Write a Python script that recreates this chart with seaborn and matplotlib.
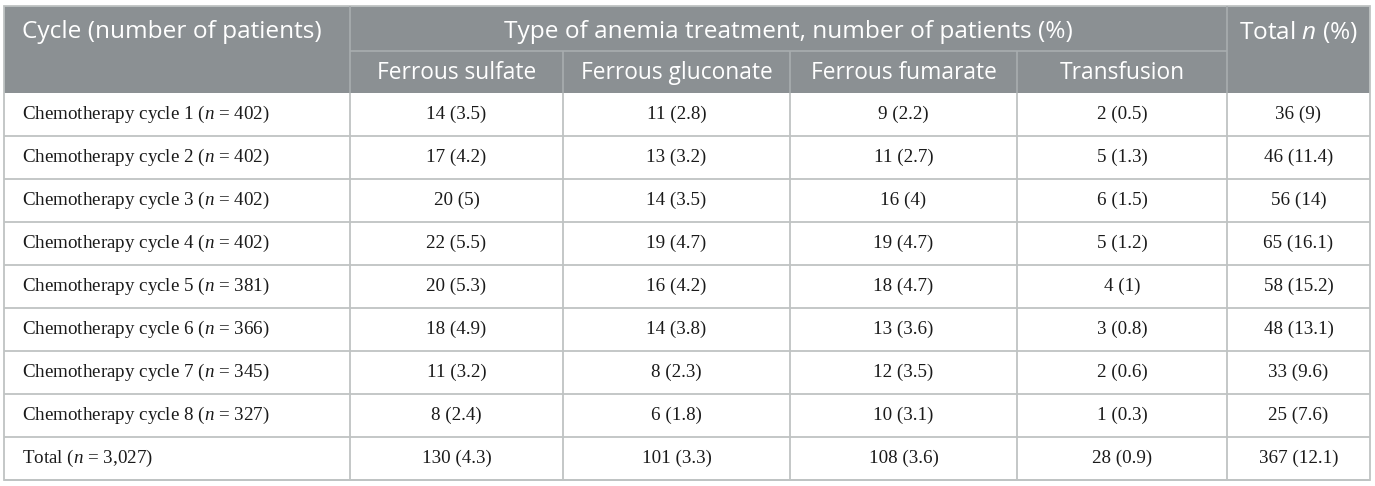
import numpy as np
import pandas as pd
import seaborn as sns
import matplotlib.pyplot as plt

# ---- table data ----
cycle_labels = [f"Chemotherapy cycle {i}" for i in range(1, 9)] + ["Total"]
cycle_n = ["402", "402", "402", "402", "381", "366", "345", "327", "3,027"]

sulfate_n = [14, 17, 20, 22, 20, 18, 11, 8, 130]
sulfate_pct = [3.5, 4.2, 5, 5.5, 5.3, 4.9, 3.2, 2.4, 4.3]
gluconate_n = [11, 13, 14, 19, 16, 14, 8, 6, 101]
gluconate_pct = [2.8, 3.2, 3.5, 4.7, 4.2, 3.8, 2.3, 1.8, 3.3]
fumarate_n = [9, 11, 16, 19, 18, 13, 12, 10, 108]
fumarate_pct = [2.2, 2.7, 4, 4.7, 4.7, 3.6, 3.5, 3.1, 3.6]
transfusion_n = [2, 5, 6, 5, 4, 3, 2, 1, 28]
transfusion_pct = [0.5, 1.3, 1.5, 1.2, 1, 0.8, 0.6, 0.3, 0.9]
total_n = [36, 46, 56, 65, 58, 48, 33, 25, 367]
total_pct = [9, 11.4, 14, 16.1, 15.2, 13.1, 9.6, 7.6, 12.1]

sub_headers = ["Ferrous sulfate", "Ferrous gluconate", "Ferrous fumarate", "Transfusion"]

def fmt(ns, ps):
    return [f"{n} ({p:g})" for n, p in zip(ns, ps)]

df = pd.DataFrame({
    "cycle": [f"{c} ($\\mathit{{n}}$ = {n})" for c, n in zip(cycle_labels, cycle_n)],
    "sulfate": fmt(sulfate_n, sulfate_pct),
    "gluconate": fmt(gluconate_n, gluconate_pct),
    "fumarate": fmt(fumarate_n, fumarate_pct),
    "transfusion": fmt(transfusion_n, transfusion_pct),
    "total": fmt(total_n, total_pct),
})

# ---- style ----
sns.set_theme(style="white")
plt.rcParams["font.family"] = ["DejaVu Sans"]
plt.rcParams["mathtext.fontset"] = "custom"
plt.rcParams["mathtext.it"] = "Liberation Serif:italic"
plt.rcParams["mathtext.rm"] = "Liberation Serif"
plt.rcParams["mathtext.cal"] = "Open Sans:italic"

head_bg = "#8b9093"
head_line = "#a9adaf"
grid = "#bfc3c3"
body_font = "Liberation Serif"
head_font = "Open Sans"

# layout (pixels)
col_edges = [4, 350, 563, 790, 1017, 1227, 1370]
y_top, y_mid, y_head = 6, 51, 93
row_h = 43.0
row_edges = [y_head + i * row_h for i in range(len(df) + 1)]

fig = plt.figure(figsize=(13.75, 4.86), dpi=100)
ax = fig.add_axes([0, 0, 1, 1])
ax.set_xlim(0, 1375)
ax.set_ylim(486, 0)
ax.axis("off")

# header background
ax.add_patch(plt.Rectangle((col_edges[0], y_top), col_edges[-1] - col_edges[0],
                           y_head - y_top, color=head_bg, lw=0))

hs1, hs2 = 17.6, 16.4
y1, y2 = 32, 73
ax.text(col_edges[0] + 18, y1, "Cycle (number of patients)",
        ha="left", va="center", color="white", fontsize=hs1, family=head_font)
ax.text((col_edges[1] + col_edges[5]) / 2, y1,
        "Type of anemia treatment, number of patients (%)",
        ha="center", va="center", color="white", fontsize=hs1, family=head_font)
ax.text((col_edges[5] + col_edges[6]) / 2, y1,
        "Total $\\mathcal{n}$ (%)",
        ha="center", va="center", color="white", fontsize=hs1, family=head_font)
for j, h in enumerate(sub_headers):
    ax.text((col_edges[j + 1] + col_edges[j + 2]) / 2, y2, h,
            ha="center", va="center", color="white", fontsize=hs2, family=head_font)

# header lines
ax.hlines(y_mid, col_edges[1], col_edges[5], color=head_line, lw=1.2)
ax.vlines(col_edges[2:5], y_mid, y_head, color=head_line, lw=1.2)
ax.vlines([col_edges[1], col_edges[5]], y_top, y_head, color=head_line, lw=1.2)

# body
bs = 13.7
cols = list(df.columns)
for i, row in df.iterrows():
    yc = (row_edges[i] + row_edges[i + 1]) / 2
    for j, c in enumerate(cols):
        if j == 0:
            ax.text(col_edges[0] + 18, yc, row[c], ha="left", va="center",
                    fontsize=bs, family=body_font, color="#1a1a1a")
        else:
            ax.text((col_edges[j] + col_edges[j + 1]) / 2, yc, row[c], ha="center",
                    va="center", fontsize=bs, family=body_font, color="#1a1a1a")

ax.hlines(row_edges[1:], col_edges[0], col_edges[-1], color=grid, lw=1.3)
ax.vlines(col_edges[1:-1], y_head, row_edges[-1], color=grid, lw=1.3)

# outer frame
ax.add_patch(plt.Rectangle((col_edges[0], y_top), col_edges[-1] - col_edges[0],
                           row_edges[-1] - y_top, fill=False, ec=grid, lw=1.3))

fig.savefig("out.png", dpi=100)
